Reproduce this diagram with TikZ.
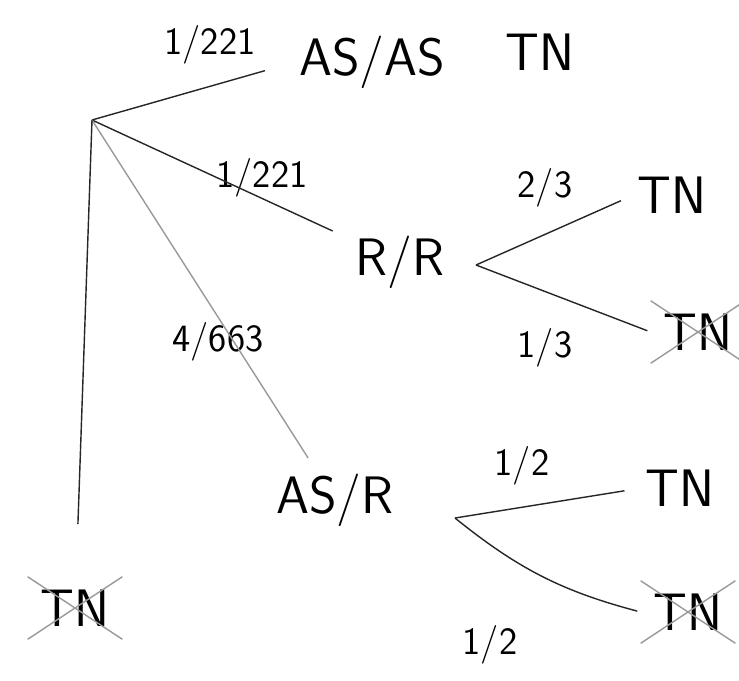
\documentclass[tikz,border=0pt]{standalone}
\usepackage{tikz}
\usetikzlibrary{positioning,shapes.misc}

\begin{document}
\begin{tikzpicture}[x=0.02cm,y=-0.02cm,font=\sffamily]
\tikzset{state/.style={font=\sffamily\fontsize{30}{34}\selectfont,inner sep=2pt},
         prob/.style={font=\sffamily\fontsize{22}{26}\selectfont,inner sep=1pt},
         branch/.style={draw=black!85,thick},
         faint/.style={draw=black!40,thick},
         nottn/.style={state,cross out,draw=black!40,thick,inner sep=7pt}}
\useasboundingbox (0,0) rectangle (739,680);
\coordinate (root) at (92,120);
\node[state] (aa) at (372,62) {AS/AS};
\node[state] (tn0) at (540,52) {TN};
\node[state] (rr) at (400,262) {R/R};
\node[state] (asr) at (335,500) {AS/R};
\coordinate (fork1) at (476,265);
\coordinate (fork2) at (455,518);
\node[nottn] (no0) at (75,608) {TN};
\node[state] (tn1) at (672,195) {TN};
\node[nottn] (no1) at (698,332) {TN};
\node[state] (tn2) at (680,488) {TN};
\node[nottn] (no2) at (688,612) {TN};
\node[prob] (pAA) at (210,45) {1/221};
\node[prob] (pRR) at (262,178) {1/221};
\node[prob] (pAR) at (218,342) {4/663};
\node[prob] (pT1) at (545,188) {2/3};
\node[prob] (pN1) at (545,348) {1/3};
\node[prob] (pT2) at (522,466) {1/2};
\node[prob] (pN2) at (490,645) {1/2};
\draw[branch,shorten >=18pt] (root) -- (aa.west);
\draw[branch,shorten >=12pt] (root) -- (rr);
\draw[faint,shorten >=8pt] (root) -- (asr);
\draw[branch,shorten >=30pt] (root) -- (no0);
\draw[branch,shorten >=8pt] (fork1) -- (tn1.west);
\draw[branch,shorten >=2pt] (fork1) -- (no1.west);
\draw[branch,shorten >=10pt] (fork2) -- (tn2.west);
\draw[branch,shorten >=2pt] (fork2) to[bend right=12] (no2.west);
\end{tikzpicture}
\end{document}
